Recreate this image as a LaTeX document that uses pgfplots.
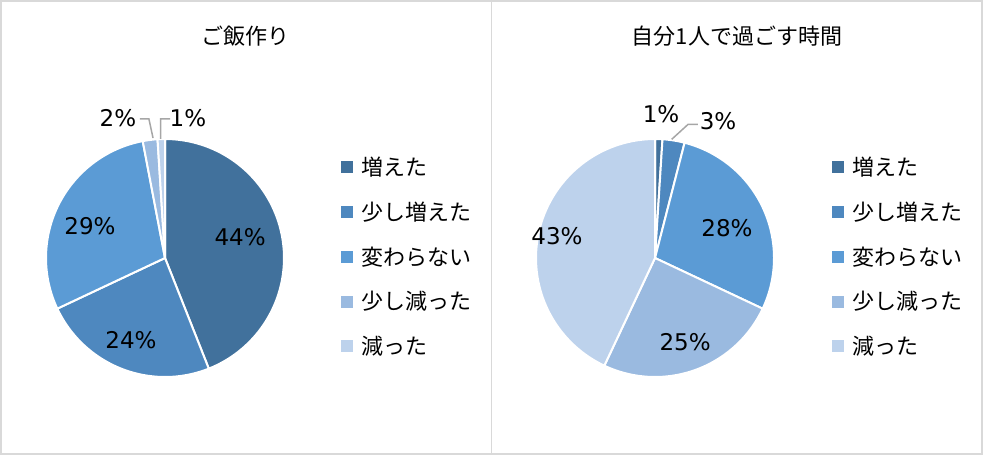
\documentclass[border=0pt]{standalone}
\usepackage{fontspec}
\setmainfont{Noto Sans CJK JP}
\newfontfamily\numfont{DejaVu Sans}
\usepackage{pgfplots}
\pgfplotsset{compat=1.18}
\usepgfplotslibrary{polar}
\definecolor{c1}{HTML}{41719C}
\definecolor{c2}{HTML}{4E88BF}
\definecolor{c3}{HTML}{5B9BD5}
\definecolor{c4}{HTML}{9ABAE0}
\definecolor{c5}{HTML}{BDD2EC}
\definecolor{bordergray}{HTML}{D9D9D9}
\definecolor{leadergray}{HTML}{A6A6A6}
% data: percentages (増えた, 少し増えた, 変わらない, 少し減った, 減った)
\def\La{44}\def\Lb{24}\def\Lc{29}\def\Ld{2}\def\Le{1}
\def\Ra{1}\def\Rb{3}\def\Rc{28}\def\Rd{25}\def\Re{43}
\begin{document}
\begin{tikzpicture}[x=0.5pt,y=0.5pt]
\pgfmathsetmacro\LA{90}
\pgfmathsetmacro\LB{90-3.6*\La}
\pgfmathsetmacro\LC{90-3.6*(\La+\Lb)}
\pgfmathsetmacro\LD{90-3.6*(\La+\Lb+\Lc)}
\pgfmathsetmacro\LE{90-3.6*(\La+\Lb+\Lc+\Ld)}
\pgfmathsetmacro\LF{90-3.6*(\La+\Lb+\Lc+\Ld+\Le)}
\pgfmathsetmacro\RA{90}
\pgfmathsetmacro\RB{90-3.6*\Ra}
\pgfmathsetmacro\RC{90-3.6*(\Ra+\Rb)}
\pgfmathsetmacro\RD{90-3.6*(\Ra+\Rb+\Rc)}
\pgfmathsetmacro\RE{90-3.6*(\Ra+\Rb+\Rc+\Rd)}
\pgfmathsetmacro\RF{90-3.6*(\Ra+\Rb+\Rc+\Rd+\Re)}
% frame
\draw[bordergray, line width=0.6pt] (1,1) rectangle (982,454);
\draw[bordergray, line width=0.6pt] (491.5,1) -- (491.5,454);
% titles
\node[font=\fontsize{11pt}{13pt}\selectfont] at (245.5,455-36) {ご飯作り};
\node[font=\fontsize{11pt}{13pt}\selectfont] at (737,455-36) {自分1人で過ごす時間};
% left pie
\begin{polaraxis}[at={(82.5pt,98.5pt)}, anchor=center, scale only axis, width=119pt,
  ymin=0, ymax=1, hide axis, clip=false,
  every axis plot/.append style={draw=white, line width=1pt, samples=80}]
\addplot[fill=c1, domain=\LB:\LA] {1} -- (axis cs:0,0) -- cycle;
\addplot[fill=c2, domain=\LC:\LB] {1} -- (axis cs:0,0) -- cycle;
\addplot[fill=c3, domain=\LD:\LC] {1} -- (axis cs:0,0) -- cycle;
\addplot[fill=c4, domain=\LE:\LD] {1} -- (axis cs:0,0) -- cycle;
\addplot[fill=c5, domain=\LF:\LE] {1} -- (axis cs:0,0) -- cycle;
\draw[leadergray, line width=0.75pt] (axis cs:95.7,1.013) -- (axis cs:96.6,1.176) -- (axis cs:100.2,1.187);
\draw[leadergray, line width=0.75pt] (axis cs:92.1,1.001) -- (axis cs:91.8,1.169) -- (axis cs:87.9,1.169);
\begin{scope}[font=\numfont\fontsize{11.5pt}{13pt}\selectfont]
\node at (axis cs:15.6,0.655) {44\%};
\node at (axis cs:247.5,0.746) {24\%};
\node at (axis cs:156.9,0.685) {29\%};
\node at (axis cs:108.6,1.241) {2\%};
\node at (axis cs:80.7,1.192) {1\%};
\end{scope}
\end{polaraxis}
% right pie
\begin{polaraxis}[at={(327.5pt,98.5pt)}, anchor=center, scale only axis, width=119pt,
  ymin=0, ymax=1, hide axis, clip=false,
  every axis plot/.append style={draw=white, line width=1pt, samples=80}]
\addplot[fill=c1, domain=\RB:\RA] {1} -- (axis cs:0,0) -- cycle;
\addplot[fill=c2, domain=\RC:\RB] {1} -- (axis cs:0,0) -- cycle;
\addplot[fill=c3, domain=\RD:\RC] {1} -- (axis cs:0,0) -- cycle;
\addplot[fill=c4, domain=\RE:\RD] {1} -- (axis cs:0,0) -- cycle;
\addplot[fill=c5, domain=\RF:\RE] {1} -- (axis cs:0,0) -- cycle;
\draw[leadergray, line width=0.75pt] (axis cs:82.0,1.007) -- (axis cs:76.1,1.157) -- (axis cs:72.2,1.18);
\begin{scope}[font=\numfont\fontsize{11.5pt}{13pt}\selectfont]
\node at (axis cs:87.6,1.211) {1\%};
\node at (axis cs:65.3,1.267) {3\%};
\node at (axis cs:22.6,0.655) {28\%};
\node at (axis cs:-70.3,0.75) {25\%};
\node at (axis cs:167.3,0.844) {43\%};
\end{scope}
\end{polaraxis}
% legends
\foreach \xo in {0,491} {
  \foreach \c/\t [count=\i from 0] in {c1/増えた, c2/少し増えた, c3/変わらない, c4/少し減った, c5/減った} {
    \pgfmathsetmacro\yc{455-167.5-44.7*\i}
    \fill[\c] (341+\xo,\yc-6) rectangle ++(12,12);
    \node[anchor=west, inner sep=0pt, font=\fontsize{11pt}{13pt}\selectfont] at (361+\xo,\yc) {\t};
  }
}
\pgfresetboundingbox
\path[use as bounding box] (0,0) rectangle (983,455);
\end{tikzpicture}
\end{document}
